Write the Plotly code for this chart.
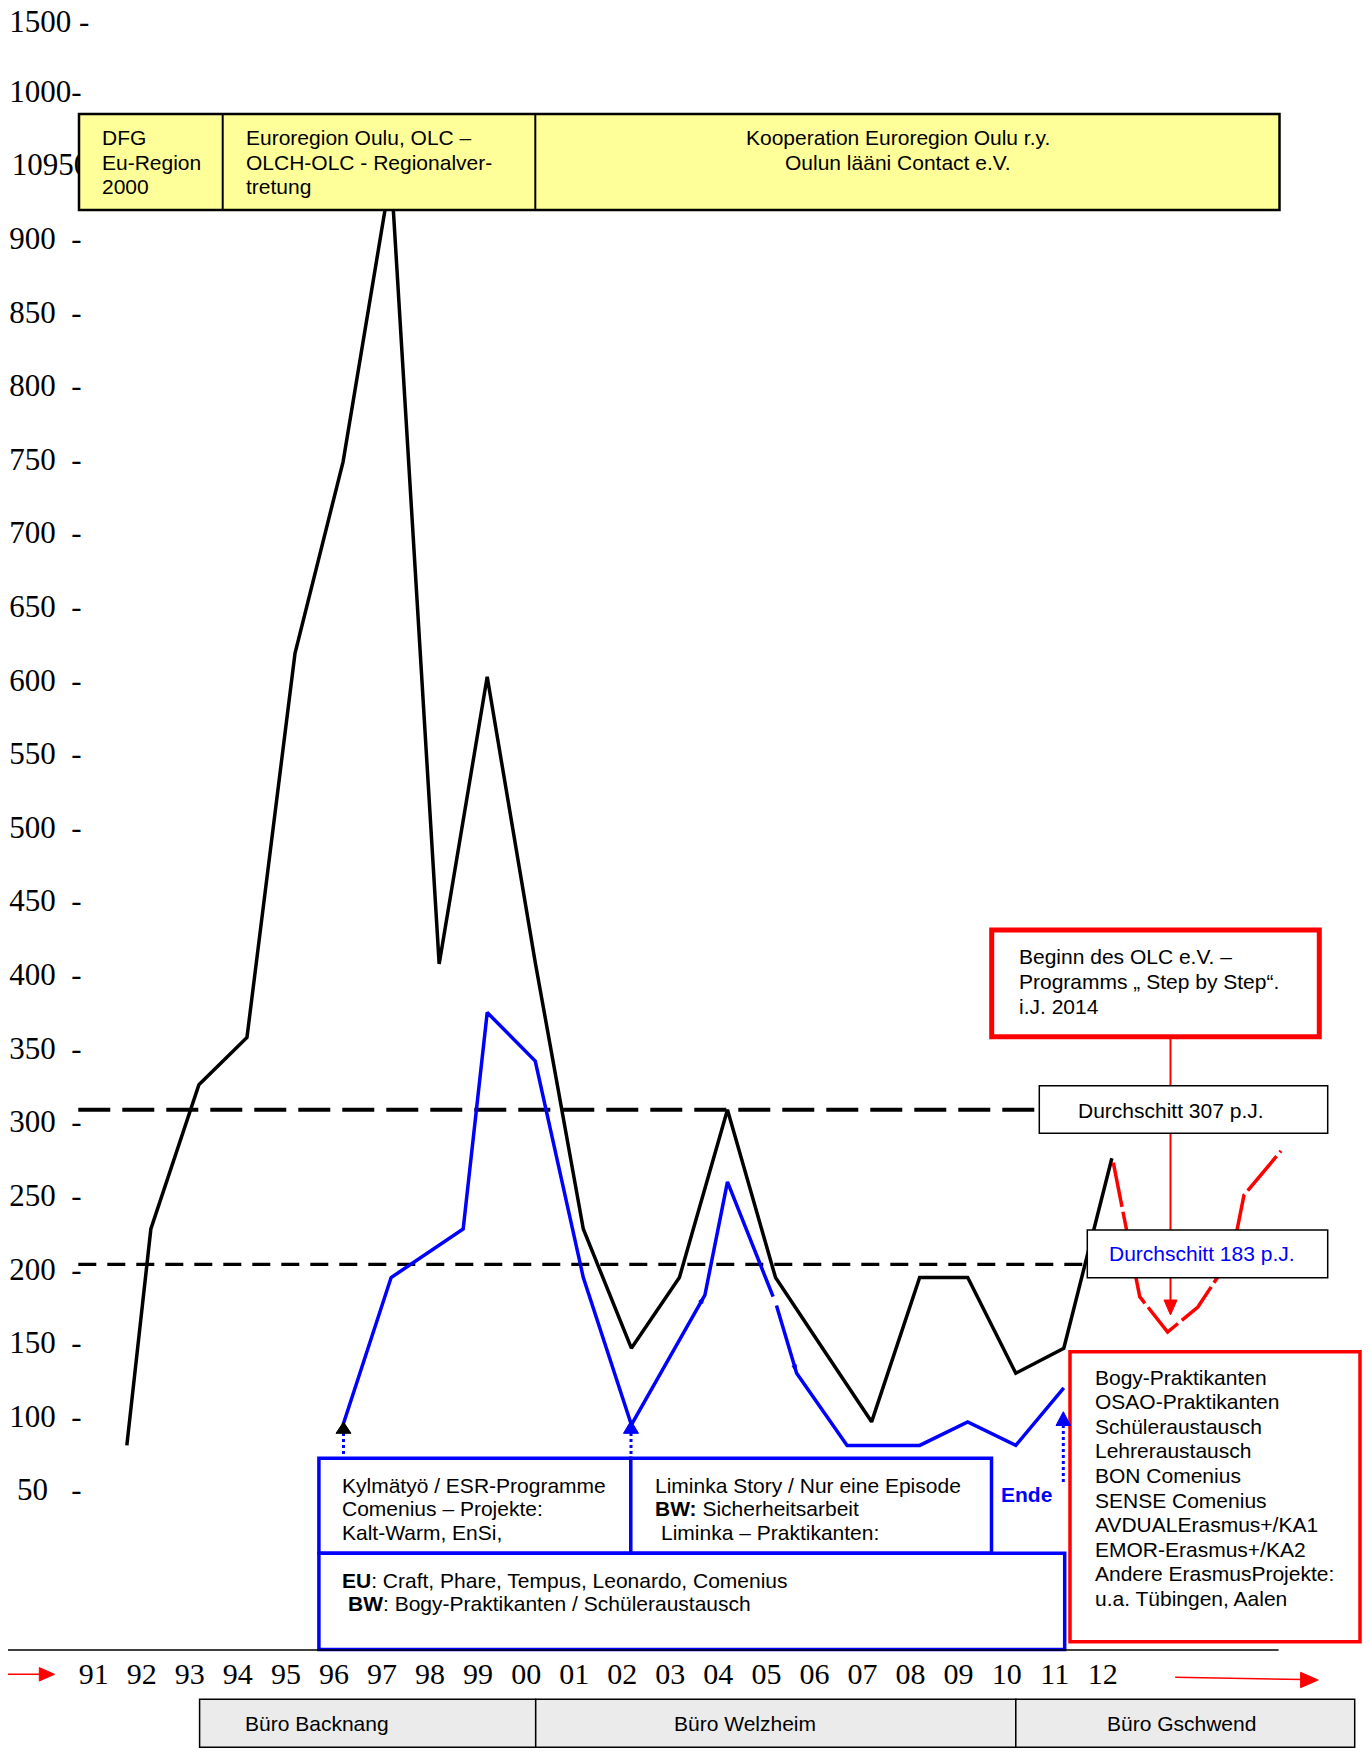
import plotly.graph_objects as go

# ---------------- data ----------------
YEARS = ["91", "92", "93", "94", "95", "96", "97", "98", "99", "00", "01",
         "02", "03", "04", "05", "06", "07", "08", "09", "10", "11", "12"]

# black line (all participants) - x in year index (92 -> 1)
BLACK_X = [0.5, 1, 2, 3, 4, 5, 6, 7, 8, 9, 10, 11, 12, 13, 14, 15, 16, 17, 18, 19, 20, 21]
BLACK_V = [80, 227, 325, 357, 618, 748, 944, 407, 602, 408, 227, 146, 194, 308, 194, 145, 96,
           194, 194, 129, 146, 275]

# blue line
BLUE_X = [5, 6, 7.5, 8, 9, 10, 11, 12.53, 13, 13.95, None, 14.02, 14.44, 15.49, 17, 18, 19, 20]
BLUE_V = [94, 194, 227, 374, 341, 194, 94, 182, 259, 181, None, 175, 129, 80, 80, 96, 80, 119]

# small arrow heads drawn on the blue line
BLUE_ARROW_X = [12.53, 14.44]
BLUE_ARROW_V = [182, 129]
BLUE_ARROW_ANGLE = [30, 163]

# red projection (dashed)
RED_X = [21.03, 21.58, 22.16, 22.79, 23.5, 23.75, 24.52]
RED_V = [272, 181, 157, 174, 209, 250, 280]

# averages
AVG_HIGH = 308
AVG_LOW = 203
AVG_HIGH_X = [-0.51, 19.44]
AVG_LOW_X = [-0.51, 20.49]

NB = "\u00a0"
Y_TICKVALS = [50, 100, 150, 200, 250, 300, 350, 400, 450, 500, 550, 600, 650, 700, 750, 800,
              850, 900, 950, 1000, 1047]
Y_TICKTEXT = ([f"50{NB}{NB}{NB}-{NB}"] +
              [f"{v}{NB}{NB}-{NB}" for v in Y_TICKVALS[1:18]] +
              ["10950", f"1000-{NB}", f"1500{NB}-"])

# ---------------- geometry helpers ----------------
OFF = 8                     # page body margin
W, H = 1370 - OFF, 1752 - OFF


def px(x):
    return (x - OFF) / W


def py(y):
    return 1 - (y - OFF) / H


# data -> reference pixel mapping used for axis ranges
X0_PIX, X_STEP = 102.81, 48.05          # x_pix = X0_PIX + X_STEP * i
Y50_PIX, Y_STEP = 1489.57, 1.47237      # y_pix = Y50_PIX - (v - 50) * Y_STEP
x_range = [(OFF - X0_PIX) / X_STEP, (1370 - X0_PIX) / X_STEP]
y_range = [50 - (1752 - Y50_PIX) / Y_STEP, 50 + (Y50_PIX - OFF) / Y_STEP]

shapes = []
annotations = []


def rect(x0, y0, x1, y1, color="black", width=2, fill="white"):
    shapes.append(dict(type="rect", xref="paper", yref="paper", x0=px(x0), x1=px(x1),
                       y0=py(y1), y1=py(y0), line=dict(color=color, width=width),
                       fillcolor=fill, layer="above"))


def seg(x0, y0, x1, y1, color="black", width=2, dash="solid"):
    shapes.append(dict(type="line", xref="paper", yref="paper", x0=px(x0), x1=px(x1),
                       y0=py(y0), y1=py(y1), line=dict(color=color, width=width, dash=dash),
                       layer="above"))


def tri(pts, color):
    d = "M " + " L ".join(f"{px(a):.5f},{py(b):.5f}" for a, b in pts) + " Z"
    shapes.append(dict(type="path", xref="paper", yref="paper", path=d, fillcolor=color,
                       line=dict(color=color, width=1), layer="above"))


SANS = "Liberation Sans, Arial"
SERIF = "Liberation Serif, Times New Roman"


def text_lines(texts, x, y0, dy, size=21, color="black", xanchor="left"):
    for k, t in enumerate(texts):
        annotations.append(dict(xref="paper", yref="paper", x=px(x), y=py(y0 + k * dy),
                                text=t, showarrow=False, xanchor=xanchor, yanchor="middle",
                                font=dict(family=SANS, size=size, color=color)))


fig = go.Figure()

# average lines
fig.add_trace(go.Scatter(x=AVG_HIGH_X, y=[AVG_HIGH, AVG_HIGH], mode="lines",
                         line=dict(color="black", width=4, dash="32px,12px"), hoverinfo="skip"))
fig.add_trace(go.Scatter(x=AVG_LOW_X, y=[AVG_LOW, AVG_LOW], mode="lines",
                         line=dict(color="black", width=3.3, dash="18px,11px"), hoverinfo="skip"))

# main lines
fig.add_trace(go.Scatter(x=BLACK_X, y=BLACK_V, mode="lines",
                         line=dict(color="black", width=3.5, simplify=False), hoverinfo="skip"))
fig.add_trace(go.Scatter(x=BLUE_X, y=BLUE_V, mode="lines",
                         line=dict(color="#0000ff", width=3.5, simplify=False),
                         connectgaps=False, hoverinfo="skip"))
fig.add_trace(go.Scatter(x=BLUE_ARROW_X, y=BLUE_ARROW_V, mode="markers",
                         marker=dict(symbol="arrow", size=9, color="#0000ff",
                                     angle=BLUE_ARROW_ANGLE, line=dict(width=0)),
                         hoverinfo="skip"))
fig.add_trace(go.Scatter(x=RED_X, y=RED_V, mode="lines",
                         line=dict(color="#ff0000", width=3.5, dash="45px,5px"), hoverinfo="skip"))

# ---------------- top yellow box ----------------
rect(79, 114, 1279.5, 210, color="black", width=2.5, fill="#ffff99")
seg(222.7, 114, 222.7, 210, width=2)
seg(535.3, 114, 535.3, 210, width=2)
text_lines(["DFG", "Eu-Region", "2000"], 100, 137.3, 24.7)
text_lines(["Euroregion Oulu, OLC –", "OLCH-OLC - Regionalver-", "tretung"], 243.6, 137.3, 24.7)
text_lines(["Kooperation Euroregion Oulu r.y.", "Oulun lääni Contact e.V."], 898, 137.3, 24.7,
           xanchor="center")

# ---------------- red box top right + connector ----------------
rect(991.7, 930, 1319.3, 1036.7, color="#ff0000", width=5, fill="white")
text_lines(["Beginn des OLC e.V. –", "Programms „ Step by Step“.", "i.J. 2014"], 1016.7, 956.7, 25)
seg(1170.5, 1036.7, 1170.5, 1085.7, color="#ff0000", width=2)
seg(1170.5, 1133.3, 1170.5, 1230, color="#ff0000", width=2)
seg(1170.5, 1277.7, 1170.5, 1302, color="#ff0000", width=2)
tri([(1164, 1300), (1177, 1300), (1170.5, 1315)], "#ff0000")

rect(1039.3, 1085.7, 1327.7, 1133.3, color="black", width=1.5, fill="white")
text_lines(["Durchschitt 307 p.J."], 1170.7, 1110, 0, xanchor="center")
rect(1087.3, 1230, 1327.7, 1277.7, color="black", width=1.5, fill="white")
text_lines(["Durchschitt 183 p.J."], 1201.7, 1253.3, 0, color="#0000ff", xanchor="center")

# ---------------- red list box ----------------
rect(1070, 1351.7, 1360, 1641.7, color="#ff0000", width=3.5, fill="white")
text_lines(["Bogy-Praktikanten", "OSAO-Praktikanten", "Schüleraustausch", "Lehreraustausch",
            "BON Comenius", "SENSE Comenius", "AVDUALErasmus+/KA1", "EMOR-Erasmus+/KA2",
            "Andere ErasmusProjekte:", "u.a. Tübingen, Aalen"], 1092.7, 1377.3, 24.56)

# ---------------- blue boxes ----------------
rect(318.9, 1458.3, 630.8, 1553.3, color="#0000ff", width=3.5, fill="white")
rect(630.8, 1458.3, 991.5, 1553.3, color="#0000ff", width=3.5, fill="white")
rect(318.9, 1553.3, 1064.7, 1649.5, color="#0000ff", width=3.5, fill="white")
text_lines(["Kylmätyö / ESR-Programme", "Comenius – Projekte:", "Kalt-Warm, EnSi,"],
           339.8, 1485, 23.6)
text_lines(["Liminka Story / Nur eine Episode", "<b>BW:</b> Sicherheitsarbeit"], 653.2, 1485, 23.6)
text_lines(["Liminka – Praktikanten:"], 659.2, 1532.2, 0)
text_lines(["<b>EU</b>: Craft, Phare, Tempus, Leonardo, Comenius"], 339.8, 1580, 0)
text_lines(["<b>BW</b>: Bogy-Praktikanten / Schüleraustausch"], 346.3, 1603.3, 0)
text_lines(["<b>Ende</b>"], 1026.4, 1494, 0, color="#0000ff", xanchor="center")

# dotted arrows
seg(343.5, 1433, 343.5, 1458, color="#0000ff", width=3, dash="dot")
tri([(336, 1433.3), (351, 1433.3), (343.5, 1422)], "black")
seg(631, 1433, 631, 1458, color="#0000ff", width=3, dash="dot")
tri([(623.5, 1433.3), (638.5, 1433.3), (631, 1420.7)], "#0000ff")
seg(1063.3, 1425, 1063.3, 1482, color="#0000ff", width=3, dash="dot")
tri([(1056, 1425.5), (1070.6, 1425.5), (1063.3, 1411.7)], "#0000ff")

# ---------------- baseline, arrows, offices ----------------
seg(8, 1650, 1278.6, 1650, color="black", width=1.5)
seg(8, 1674.3, 42, 1674.3, color="#ff0000", width=1.5)
tri([(39.3, 1667.6), (39.3, 1681), (54.5, 1674.3)], "#ff0000")
seg(1175.2, 1677.3, 1303, 1679.6, color="#ff0000", width=1.5)
tri([(1300.6, 1672.3), (1300.6, 1687.7), (1318.2, 1680)], "#ff0000")

rect(199.6, 1699.3, 535.7, 1747.3, color="black", width=1.5, fill="#ebebeb")
rect(535.7, 1699.3, 1015.8, 1747.3, color="black", width=1.5, fill="#ebebeb")
rect(1015.8, 1699.3, 1354.7, 1747.3, color="black", width=1.5, fill="#ebebeb")
text_lines(["Büro Backnang"], 243.3, 1723.3, 0)
text_lines(["Büro Welzheim"], 745, 1723.3, 0, xanchor="center")
text_lines(["Büro Gschwend"], 1181.3, 1723.3, 0, xanchor="center")

# ---------------- layout ----------------
fig.update_layout(
    width=W, height=H, margin=dict(l=0, r=0, t=0, b=0, pad=0, autoexpand=False),
    paper_bgcolor="white", plot_bgcolor="white", showlegend=False,
    hovermode=False,
    shapes=shapes, annotations=annotations,
    xaxis=dict(range=x_range, domain=[0, 1], anchor="free", position=py(1653),
               tickmode="array", tickvals=[k - 0.19 for k in range(len(YEARS))],
               ticktext=YEARS, tickfont=dict(family=SERIF, size=30, color="black"),
               showgrid=False, zeroline=False, showline=False, ticks="",
               automargin=False),
    yaxis=dict(range=y_range, domain=[0, 1], anchor="free", position=px(89.25),
               tickmode="array", tickvals=Y_TICKVALS, ticktext=Y_TICKTEXT,
               tickfont=dict(family=SERIF, size=31, color="black"),
               showgrid=False, zeroline=False, showline=False, ticks="",
               ticklabeloverflow="allow", automargin=False),
)

fig.write_html("out.html")
